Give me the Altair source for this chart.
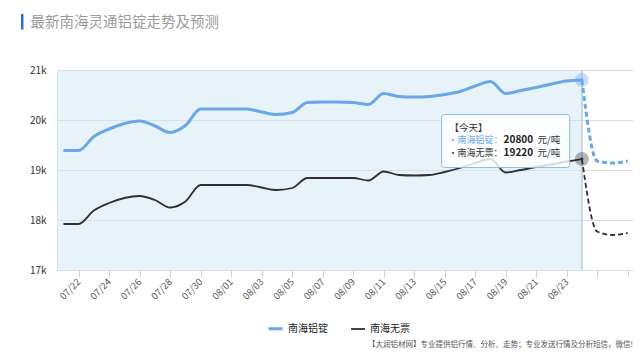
import altair as alt
import pandas as pd

# ---------------- data ----------------
dates = ["07/21", "07/22", "07/23", "07/24", "07/25", "07/26", "07/27", "07/28", "07/29", "07/30",
         "07/31", "08/01", "08/02", "08/03", "08/04", "08/05", "08/06", "08/07", "08/08", "08/09",
         "08/10", "08/11", "08/12", "08/13", "08/14", "08/15", "08/16", "08/17", "08/18", "08/19",
         "08/20", "08/21", "08/22", "08/23", "08/24", "08/25", "08/26", "08/27"]
today = "08/24"
series_names = ["南海铝锭", "南海无票"]

# history 07/21 .. 08/24
aluminum_hist = [19390, 19390, 19670, 19820, 19930, 19980, 19880, 19750, 19890, 20220,
                 20220, 20220, 20220, 20160, 20110, 20150, 20350, 20360, 20360, 20350,
                 20310, 20530, 20470, 20460, 20470, 20510, 20570, 20680, 20770, 20530,
                 20590, 20650, 20720, 20780, 20800]
nontax_hist = [17920, 17920, 18190, 18340, 18440, 18480, 18400, 18250, 18370, 18700,
               18700, 18700, 18700, 18650, 18600, 18640, 18840, 18840, 18840, 18840,
               18790, 18970, 18900, 18890, 18900, 18960, 19040, 19140, 19220, 18950,
               19000, 19060, 19110, 19170, 19220]
# forecast 08/24 .. 08/27
aluminum_pred = [20800, 19180, 19140, 19180]
nontax_pred = [19220, 17770, 17700, 17740]

y_ticks = [17000, 18000, 19000, 20000, 21000]
title_text = "最新南海灵通铝锭走势及预测"
footnote_text = "【大润铝材网】专业提供铝行情、分析、走势；专业发送行情及分析短信，微信!"
tip_title = "【今天】"
unit_text = "元/吨"

# ---------------- styling ----------------
FONT = "Noto Sans CJK SC"
BLUE = "#69a7e7"
BLACK = "#2f2f2f"
today_idx = dates.index(today)
X_DOMAIN = [-0.42, 37.35]
Y_DOMAIN = [17000, 21000]

hist_rows = []
for i, v in enumerate(aluminum_hist):
    hist_rows.append({"idx": i, "value": v, "series": series_names[0]})
for i, v in enumerate(nontax_hist):
    hist_rows.append({"idx": i, "value": v, "series": series_names[1]})
hist_df = pd.DataFrame(hist_rows)

pred_rows = []
for k, v in enumerate(aluminum_pred):
    pred_rows.append({"idx": today_idx + k, "value": v, "series": series_names[0]})
for k, v in enumerate(nontax_pred):
    pred_rows.append({"idx": today_idx + k, "value": v, "series": series_names[1]})
pred_df = pd.DataFrame(pred_rows)

today_df = pd.DataFrame({
    "idx": [today_idx, today_idx],
    "value": [aluminum_hist[-1], nontax_hist[-1]],
    "series": series_names,
})

xscale = alt.Scale(domain=X_DOMAIN, nice=False, zero=False)
yscale = alt.Scale(domain=Y_DOMAIN, nice=False, zero=False)
color_scale = alt.Scale(domain=series_names, range=[BLUE, BLACK])

label_array = "[" + ",".join("'" + d + "'" for d in dates) + "]"
x_axis = alt.Axis(
    values=list(range(1, len(dates), 2)),
    labelExpr=f"datum.value > {today_idx} ? '' : {label_array}[datum.value]",
    labelAngle=315, labelAlign="right", labelBaseline="middle", labelPadding=3,
    labelFontSize=9.5, labelColor="#555", labelFont=FONT, labelOverlap=False,
    labelBound=False, labelFlush=False,
    ticks=True, tickColor="#c3d2df", tickSize=7, tickWidth=1,
    domain=False, grid=False, title=None,
)
y_axis = alt.Axis(
    values=y_ticks, labelExpr="(datum.value / 1000) + 'k'",
    grid=True, gridColor="#dadada", gridWidth=1,
    gridOpacity={"condition": {"test": "datum.value == 17000", "value": 0}, "value": 1},
    ticks=False, domain=False, labelPadding=11, labelFontSize=10,
    labelColor="#333", labelFont=FONT, title=None,
)

X = alt.X("idx:Q", scale=xscale, axis=x_axis)
Y = alt.Y("value:Q", scale=yscale, axis=y_axis)
tx = alt.X("x:Q", scale=xscale, axis=x_axis)
ty = alt.Y("y:Q", scale=yscale, axis=y_axis)

legend = alt.Legend(
    orient="none", legendX=210, legendY=250, direction="horizontal", title=None,
    symbolType="stroke", symbolSize=196, symbolStrokeWidth=2,
    labelFontSize=10, labelColor="#222", labelFont=FONT, labelOffset=4,
    columnPadding=19, padding=0,
)

# shaded history region
shade_df = pd.DataFrame({"x": [X_DOMAIN[0]], "x2": [today_idx], "y": [Y_DOMAIN[0]], "y2": [Y_DOMAIN[1]]})
shade = alt.Chart(shade_df).mark_rect(color="#d1e5f3", opacity=0.5).encode(
    x=tx, x2="x2:Q", y=ty, y2="y2:Q",
)
today_rule_df = pd.DataFrame({"x": [today_idx], "y": [Y_DOMAIN[0]], "y2": [Y_DOMAIN[1]]})
today_rule = alt.Chart(today_rule_df).mark_rule(color="#c6d7e5", strokeWidth=2).encode(
    x=tx, y=ty, y2="y2:Q",
)

sw_scale = alt.Scale(domain=series_names, range=[3, 1.8])
hist_lines = alt.Chart(hist_df).mark_line(interpolate="monotone").encode(
    x=X, y=Y,
    color=alt.Color("series:N", scale=color_scale, legend=legend, sort=series_names),
    strokeWidth=alt.StrokeWidth("series:N", scale=sw_scale, legend=None),
    detail="series:N",
)
pred_lines = alt.Chart(pred_df).mark_line(interpolate="monotone", strokeDash=[5, 3]).encode(
    x=X, y=Y,
    color=alt.Color("series:N", scale=color_scale, legend=legend, sort=series_names),
    strokeWidth=alt.StrokeWidth("series:N", scale=sw_scale, legend=None),
    detail="series:N",
)

halo = alt.Chart(today_df).mark_point(filled=True, size=200, opacity=0.35).encode(
    x=X, y=Y,
    color=alt.Color("series:N", scale=alt.Scale(domain=series_names, range=["#8dbde9", "#8a8a8a"]), legend=None),
)
dot = alt.Chart(today_df).mark_point(filled=True, size=10, opacity=1).encode(
    x=X, y=Y,
    color=alt.Color("series:N", scale=color_scale, legend=legend, sort=series_names),
)

# tooltip-like annotation anchored in data space
TIP_X, TIP_X2, TIP_Y, TIP_Y2 = 24.8, 33.2, 20110, 19050
tip_box_df = pd.DataFrame({"x": [TIP_X], "x2": [TIP_X2], "y": [TIP_Y], "y2": [TIP_Y2]})
tip_box = alt.Chart(tip_box_df).mark_rect(
    fill="white", fillOpacity=0.82, stroke="#8fbbe6", strokeWidth=1, cornerRadius=3
).encode(x=tx, x2="x2:Q", y=ty, y2="y2:Q")

line_y = [19840, 19595, 19350]
tip_head = alt.Chart(pd.DataFrame({"x": [TIP_X], "y": [line_y[0]], "text": [tip_title]})).mark_text(
    align="left", baseline="middle", dx=8, fontSize=9.5, color="#333", font=FONT
).encode(x=tx, y=ty, text="text:N")
tip_rows_df = pd.DataFrame({
    "x": [TIP_X] * 2, "y": line_y[1:],
    "label": ["·" + series_names[0] + "：", "·" + series_names[1] + "："],
    "val": [str(aluminum_hist[-1]), str(nontax_hist[-1])],
    "unit": [unit_text, unit_text],
    "c": [BLUE, "#333333"],
})
tip_labels = alt.Chart(tip_rows_df).mark_text(
    align="left", baseline="middle", dx=7, fontSize=9, font=FONT
).encode(x=tx, y=ty, text="label:N", color=alt.Color("c:N", scale=None))
tip_vals = alt.Chart(tip_rows_df).mark_text(
    align="left", baseline="middle", dx=62, fontSize=10, fontWeight="bold", color="#222", font=FONT
).encode(x=tx, y=ty, text="val:N")
tip_units = alt.Chart(tip_rows_df).mark_text(
    align="left", baseline="middle", dx=96, fontSize=9.5, color="#333", font=FONT
).encode(x=tx, y=ty, text="unit:N")

# title and footnote
one = pd.DataFrame({"k": [0]})
title_bar = alt.Chart(one).mark_rect(color="#2670d4").encode(
    x=alt.value(-36), x2=alt.value(-33.5), y=alt.value(-56), y2=alt.value(-40.5)
)
title = alt.Chart(one).mark_text(
    align="left", baseline="alphabetic", fontSize=14.5, color="#9b9b9b", font=FONT
).encode(x=alt.value(-26.5), y=alt.value(-43), text=alt.value(title_text))
footnote = alt.Chart(one).mark_text(
    align="right", baseline="middle", fontSize=7.5, color="#555", font=FONT
).encode(x=alt.value(576), y=alt.value(275), text=alt.value(footnote_text))

chart = alt.layer(
    shade, today_rule, hist_lines, pred_lines, halo, dot,
    tip_box, tip_head, tip_labels, tip_vals, tip_units,
    title_bar, title, footnote,
).properties(
    width=576, height=200,
    autosize=alt.AutoSizeParams(type="none"),
    padding={"left": 49, "top": 62, "right": 0, "bottom": 85},
).configure_view(stroke=None).configure(font=FONT, background="white")

chart.save("out.html", embed_options={"renderer": "svg", "actions": False})
